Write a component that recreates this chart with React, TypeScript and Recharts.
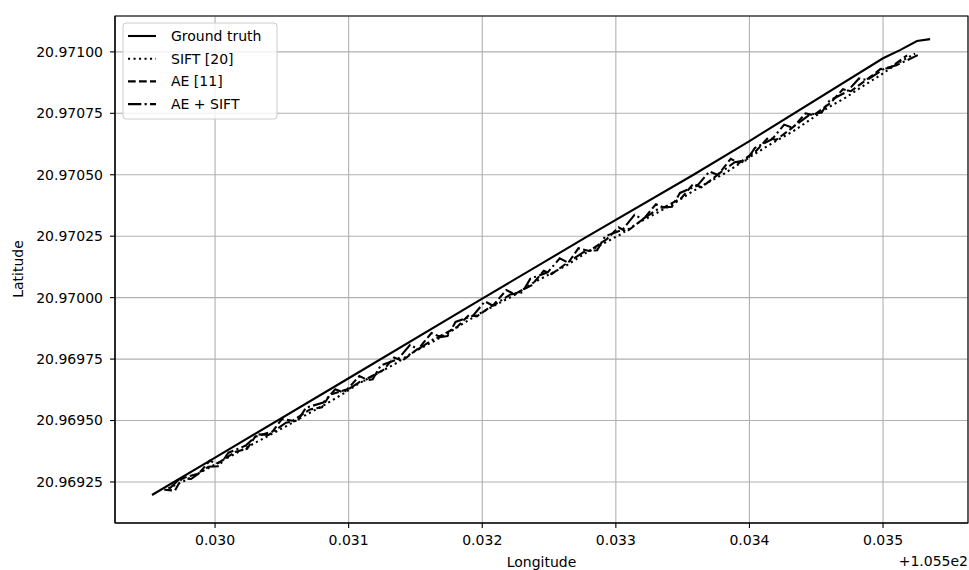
import React from 'react'
import { LineChart, Line, XAxis, YAxis, CartesianGrid, ReferenceArea, Label } from 'recharts'

// longitude values are offsets from 105.5 (the axis shows "+1.055e2")
const gtLon = [0.029528, 0.030000, 0.031000, 0.032000, 0.032784, 0.033578, 0.034000, 0.035000, 0.035127, 0.035254, 0.035352]
const gtLat = [20.969197, 20.969349, 20.969672, 20.969996, 20.970248, 20.970499, 20.970637, 20.970974, 20.971007, 20.971044, 20.971052]

const siftLon = [
  0.02965, 0.02978, 0.02991, 0.03004, 0.03017, 0.03030, 0.03043, 0.03056, 0.03069, 0.03082, 0.03095,
  0.03108, 0.03121, 0.03134, 0.03147, 0.03160, 0.03173, 0.03186, 0.03199, 0.03212, 0.03225, 0.03238,
  0.03251, 0.03264, 0.03277, 0.03290, 0.03303, 0.03316, 0.03329, 0.03342, 0.03355, 0.03368, 0.03381,
  0.03394, 0.03407, 0.03420, 0.03433, 0.03446, 0.03459, 0.03472, 0.03485, 0.03498, 0.03511, 0.03524,
]
const siftLat = [
  20.969224, 20.969257, 20.969295, 20.969333, 20.969371, 20.969409, 20.969447, 20.969485, 20.969526, 20.969564, 20.969606,
  20.969652, 20.969690, 20.969728, 20.969774, 20.969812, 20.969850, 20.969896, 20.969938, 20.969976, 20.970013, 20.970060,
  20.970097, 20.970134, 20.970180, 20.970218, 20.970256, 20.970302, 20.970340, 20.970378, 20.970424, 20.970466, 20.970504,
  20.970550, 20.970595, 20.970638, 20.970678, 20.970726, 20.970774, 20.970814, 20.970861, 20.970905, 20.970954, 20.970993,
]

const aeLon = [
  0.02962, 0.02970, 0.02975, 0.02988, 0.02996, 0.03002, 0.03015, 0.03024, 0.03030, 0.03043, 0.03050,
  0.03058, 0.03071, 0.03080, 0.03086, 0.03099, 0.03108, 0.03113, 0.03126, 0.03134, 0.03140, 0.03153,
  0.03162, 0.03168, 0.03181, 0.03190, 0.03196, 0.03209, 0.03218, 0.03224, 0.03237, 0.03246, 0.03252,
  0.03265, 0.03272, 0.03280, 0.03293, 0.03302, 0.03308, 0.03321, 0.03330, 0.03336, 0.03349, 0.03358,
  0.03364, 0.03377, 0.03386, 0.03392, 0.03405, 0.03414, 0.03420, 0.03433, 0.03442, 0.03448, 0.03461,
  0.03470, 0.03476, 0.03489, 0.03498, 0.03505, 0.03518,
]
const aeLat = [
  20.969218, 20.969215, 20.969264, 20.969285, 20.969336, 20.969326, 20.969372, 20.969385, 20.969434, 20.969455, 20.969506,
  20.969499, 20.969545, 20.969554, 20.969605, 20.969627, 20.969681, 20.969668, 20.969706, 20.969756, 20.969743, 20.969797,
  20.969856, 20.969842, 20.969880, 20.969929, 20.969924, 20.969974, 20.970031, 20.970014, 20.970051, 20.970109, 20.970096,
  20.970147, 20.970201, 20.970190, 20.970237, 20.970286, 20.970268, 20.970322, 20.970380, 20.970367, 20.970405, 20.970463,
  20.970449, 20.970503, 20.970565, 20.970547, 20.970597, 20.970651, 20.970642, 20.970695, 20.970750, 20.970742, 20.970794,
  20.970848, 20.970840, 20.970892, 20.970930, 20.970934, 20.970986,
]

const aeSiftLon = [
  0.02966, 0.02974, 0.02982, 0.02995, 0.03003, 0.03010, 0.03023, 0.03032, 0.03040, 0.03053, 0.03062,
  0.03068, 0.03081, 0.03090, 0.03096, 0.03109, 0.03118, 0.03124, 0.03137, 0.03146, 0.03152, 0.03165,
  0.03174, 0.03180, 0.03193, 0.03202, 0.03208, 0.03221, 0.03230, 0.03236, 0.03249, 0.03258, 0.03264,
  0.03277, 0.03286, 0.03292, 0.03305, 0.03314, 0.03320, 0.03333, 0.03342, 0.03348, 0.03361, 0.03370,
  0.03376, 0.03389, 0.03398, 0.03404, 0.03417, 0.03426, 0.03432, 0.03445, 0.03454, 0.03460, 0.03473,
  0.03482, 0.03488, 0.03501, 0.03510, 0.03518, 0.03526,
]
const aeSiftLat = [
  20.969223, 20.969265, 20.969262, 20.969312, 20.969314, 20.969369, 20.969398, 20.969444, 20.969441, 20.969491, 20.969500,
  20.969552, 20.969573, 20.969627, 20.969614, 20.969660, 20.969668, 20.969724, 20.969750, 20.969808, 20.969790, 20.969836,
  20.969844, 20.969901, 20.969926, 20.969985, 20.969967, 20.970013, 20.970021, 20.970077, 20.970103, 20.970160, 20.970143,
  20.970189, 20.970193, 20.970250, 20.970276, 20.970337, 20.970319, 20.970366, 20.970370, 20.970426, 20.970456, 20.970513,
  20.970500, 20.970551, 20.970559, 20.970609, 20.970645, 20.970704, 20.970692, 20.970744, 20.970753, 20.970802, 20.970838,
  20.970892, 20.970885, 20.970932, 20.970946, 20.970966, 20.970987,
]

const xTicks = [0.030, 0.031, 0.032, 0.033, 0.034, 0.035]
const yTicks = [20.96925, 20.9695, 20.96975, 20.97, 20.97025, 20.9705, 20.97075, 20.971]
const xDomain = [0.029251, 0.035636]
const yDomain = [20.969083, 20.971146]

const toPts = (lon: number[], lat: number[]) => lon.map((x, i) => ({ x, y: lat[i] }))

// matplotlib styles at 100 dpi: lw 1.5pt ~ 2.1px
const series = [
  { name: 'Ground truth', data: toPts(gtLon, gtLat), dash: undefined },
  { name: 'SIFT [20]', data: toPts(siftLon, siftLat), dash: '2.1 3.4' },
  { name: 'AE [11]', data: toPts(aeLon, aeLat), dash: '7.7 3.3' },
  { name: 'AE + SIFT', data: toPts(aeSiftLon, aeSiftLat), dash: '13.3 3.3 2.1 3.3' },
]

const FONT = 'DejaVu Sans'
const tickStyle = { fill: '#000', fontSize: 14, fontFamily: FONT }
const axisStroke = { stroke: '#000', strokeWidth: 1.1 }

const LegendBox = () => (
  <svg width={156} height={98} style={{ position: 'absolute', left: 122, top: 22 }}>
    <rect x={1} y={1} width={154} height={96} rx={3} fill="rgba(255,255,255,0.8)" stroke="#cccccc" strokeWidth={1} />
    {series.map((s, i) => (
      <g key={s.name}>
        <line x1={6} x2={34} y1={14 + i * 22.7} y2={14 + i * 22.7} stroke="#000" strokeWidth={2.1} strokeDasharray={s.dash} />
        <text x={49} y={14 + i * 22.7} dy="0.36em" fontSize={14} fontFamily={FONT} fill="#000">{s.name}</text>
      </g>
    ))}
  </svg>
)

export default function App() {
  return (
    <div style={{ position: 'absolute', left: 0, top: 0, width: 969, height: 570, background: '#fff' }}>
      <LineChart width={969} height={570} margin={{ top: 16, right: 1, bottom: 0, left: 0 }}>
        <CartesianGrid stroke="#b0b0b0" strokeWidth={1.1} />
        <XAxis
          type="number" dataKey="x" domain={xDomain} ticks={xTicks} allowDataOverflow
          height={47} tick={tickStyle} tickSize={5} tickMargin={7}
          tickLine={axisStroke} axisLine={axisStroke}
          tickFormatter={v => v.toFixed(3)}
        >
          <Label value="Longitude" position="insideBottom" offset={3} fill="#000" fontSize={14} fontFamily={FONT} />
          <Label content={() => (
            <text x={968} y={566} textAnchor="end" fontSize={14} fontFamily={FONT} fill="#000">+1.055e2</text>
          )} />
        </XAxis>
        <YAxis
          type="number" domain={yDomain} ticks={yTicks} allowDataOverflow
          width={115} tick={tickStyle} tickSize={5} tickMargin={7}
          tickLine={axisStroke} axisLine={axisStroke}
          tickFormatter={v => v.toFixed(5)}
        >
          <Label content={() => (
            <text x={23} y={269} transform="rotate(-90 23 269)" textAnchor="middle" fontSize={14} fontFamily={FONT} fill="#000">Latitude</text>
          )} />
        </YAxis>
        {series.map(s => (
          <Line
            key={s.name} data={s.data} dataKey="y" name={s.name} type="linear"
            stroke="#000" strokeWidth={2.1} strokeDasharray={s.dash}
            dot={false} activeDot={false} isAnimationActive={false}
          />
        ))}
        <ReferenceArea
          x1={xDomain[0]} x2={xDomain[1]} y1={yDomain[0]} y2={yDomain[1]}
          fill="none" fillOpacity={0} stroke="#000" strokeWidth={1.1} ifOverflow="visible"
        />
      </LineChart>
      <LegendBox />
    </div>
  )
}
